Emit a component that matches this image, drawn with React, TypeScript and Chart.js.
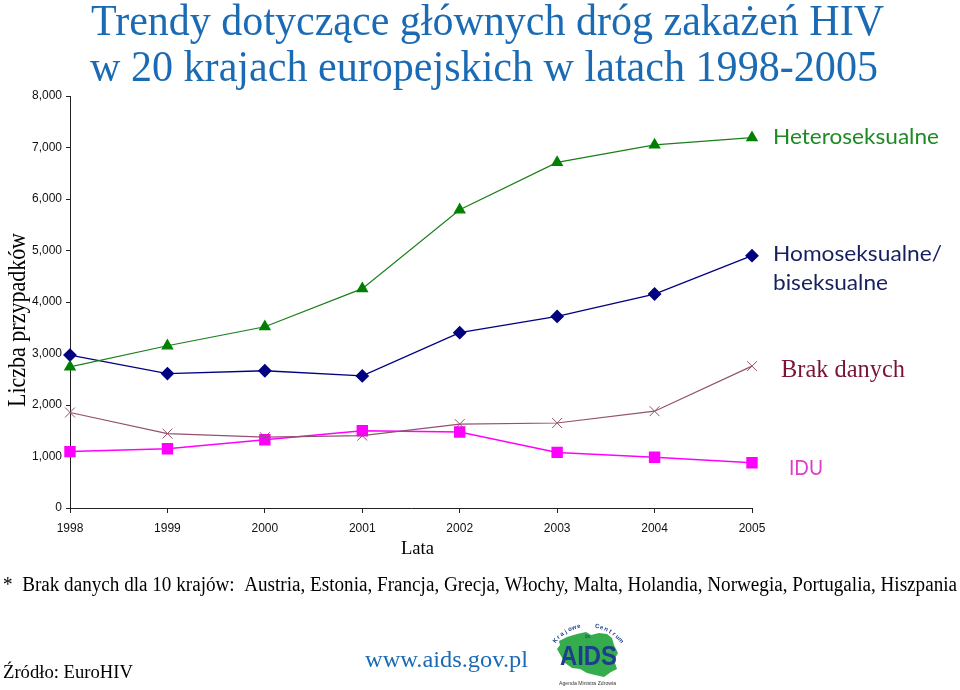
import React, { useEffect, useRef } from "react";
import { Chart, registerables } from "chart.js";
Chart.register(...registerables);

// ---- data ----
const years = [1998, 1999, 2000, 2001, 2002, 2003, 2004, 2005];
const heteroseksualne = [2740, 3150, 3520, 4260, 5790, 6710, 7050, 7190];
const homoseksualne = [2970, 2610, 2665, 2565, 3405, 3720, 4155, 4900];
const brakDanych = [1855, 1445, 1375, 1405, 1630, 1650, 1880, 2755];
const idu = [1095, 1150, 1325, 1500, 1475, 1080, 985, 880];
const yMin = 0;
const yMax = 8000;
const yStep = 1000;

const titleLines = [
  "Trendy dotyczące głównych dróg zakażeń HIV",
  "w 20 krajach europejskich w latach 1998-2005",
];
const seriesNames = ["Heteroseksualne", "Homoseksualne/", "biseksualne", "Brak danych", "IDU"];
const yTitle = "Liczba przypadków";
const xTitle = "Lata";
const footnote =
  "*  Brak danych dla 10 krajów:  Austria, Estonia, Francja, Grecja, Włochy, Malta, Holandia, Norwegia, Portugalia, Hiszpania";
const sourceText = "Źródło: EuroHIV";
const urlText = "www.aids.gov.pl";

const SERIF = "'Liberation Serif', 'Times New Roman', serif";
const SANS = "Lato, 'Open Sans', sans-serif";
const TICK_FONT = "'Liberation Sans', Arial, sans-serif";

function fitText(
  ctx: CanvasRenderingContext2D,
  text: string,
  x: number,
  y: number,
  font: string,
  color: string,
  width: number
) {
  ctx.save();
  ctx.font = font;
  ctx.fillStyle = color;
  ctx.textAlign = "left";
  ctx.textBaseline = "alphabetic";
  const w = ctx.measureText(text).width || 1;
  ctx.translate(x, y);
  ctx.scale(width / w, 1);
  ctx.fillText(text, 0, 0);
  ctx.restore();
}

function drawLogo(ctx: CanvasRenderingContext2D) {
  const ox = 557;
  const oy = 632;
  const pts = [
    [2, 9], [10, 5], [20, 2], [29, 0], [34, 3], [42, 1], [50, 2], [55, 6], [57, 13],
    [61, 21], [57, 28], [60, 37], [54, 40], [47, 45], [38, 43], [30, 41], [23, 37],
    [15, 36], [8, 31], [4, 24], [0, 17], [3, 13],
  ];
  ctx.save();
  ctx.beginPath();
  pts.forEach(([px, py], i) => {
    if (i === 0) ctx.moveTo(ox + px, oy + py);
    else ctx.lineTo(ox + px, oy + py);
  });
  ctx.closePath();
  ctx.fillStyle = "#35ad4c";
  ctx.fill();
  ctx.restore();

  fitText(ctx, "AIDS", 560, 665, `bold 28px 'Liberation Sans', sans-serif`, "#1d3d8e", 57);

  // arc text
  const arc = "Krajowe   Centrum";
  const cx = 588;
  const cy = 668;
  const r = 41;
  const a0 = (-140 * Math.PI) / 180;
  const a1 = (-40 * Math.PI) / 180;
  ctx.save();
  ctx.font = `bold 6px 'Liberation Sans', sans-serif`;
  ctx.fillStyle = "#1d3d8e";
  ctx.textAlign = "center";
  for (let i = 0; i < arc.length; i++) {
    const a = a0 + ((a1 - a0) * i) / (arc.length - 1);
    ctx.save();
    ctx.translate(cx + r * Math.cos(a), cy + r * Math.sin(a));
    ctx.rotate(a + Math.PI / 2);
    ctx.fillText(arc[i], 0, 0);
    ctx.restore();
  }
  ctx.font = `5px 'Liberation Sans', sans-serif`;
  ctx.fillText("ds.", 588, 638);
  ctx.restore();

  fitText(ctx, "Agenda Ministra Zdrowia", 559, 685, `5px 'Liberation Sans', sans-serif`, "#333", 57);
}

const textPlugin = {
  id: "texts",
  afterDraw(chart: any) {
    const ctx: CanvasRenderingContext2D = chart.ctx;
    // title
    fitText(ctx, titleLines[0], 91, 35, `44px ${SERIF}`, "#1b6bb4", 793);
    fitText(ctx, titleLines[1], 90, 81, `44px ${SERIF}`, "#1b6bb4", 788);

    // series labels
    fitText(ctx, seriesNames[0], 773, 144, `22px ${SANS}`, "#1f8a25", 166);
    fitText(ctx, seriesNames[1], 773, 261, `22px ${SANS}`, "#17205e", 169);
    fitText(ctx, seriesNames[2], 773, 290, `22px ${SANS}`, "#17205e", 115);
    fitText(ctx, seriesNames[3], 781, 377, `26px ${SERIF}`, "#7b1434", 124);
    fitText(ctx, seriesNames[4], 789, 475, `22px ${SANS}`, "#e03cc8", 34);

    // axis titles
    ctx.save();
    ctx.translate(24.5, 407);
    ctx.rotate(-Math.PI / 2);
    fitText(ctx, yTitle, 0, 0, `25px ${SERIF}`, "#000", 174);
    ctx.restore();
    fitText(ctx, xTitle, 401, 554, `19px ${SERIF}`, "#000", 33);

    // footer
    fitText(ctx, footnote, 3, 591, `20px ${SERIF}`, "#000", 954);
    fitText(ctx, sourceText, 3, 678, `18px ${SERIF}`, "#000", 130);
    fitText(ctx, urlText, 365, 667, `24px ${SERIF}`, "#1b6bb4", 163);

    drawLogo(ctx);
  },
};

function toPoints(vals: number[]) {
  return years.map((x, i) => ({ x, y: vals[i] }));
}

export default function App() {
  const ref = useRef<HTMLCanvasElement>(null);

  useEffect(() => {
    if (!ref.current) return;
    const chart = new Chart(ref.current, {
      type: "line",
      data: {
        datasets: [
          {
            label: "Heteroseksualne",
            data: toPoints(heteroseksualne),
            borderColor: "#1a7f1a",
            backgroundColor: "#008000",
            pointBackgroundColor: "#008000",
            pointBorderColor: "#008000",
            pointStyle: "triangle",
            pointRadius: 6,
            borderWidth: 1.2,
            clip: false,
          },
          {
            label: "Homoseksualne/biseksualne",
            data: toPoints(homoseksualne),
            borderColor: "#000080",
            backgroundColor: "#000080",
            pointBackgroundColor: "#000080",
            pointBorderColor: "#000080",
            pointStyle: "rectRot",
            pointRadius: 6,
            borderWidth: 1.3,
            clip: false,
          },
          {
            label: "Brak danych",
            data: toPoints(brakDanych),
            borderColor: "#93506f",
            backgroundColor: "#93506f",
            pointBackgroundColor: "#93506f",
            pointBorderColor: "#93506f",
            pointStyle: "crossRot",
            pointRadius: 7,
            pointBorderWidth: 1,
            borderWidth: 1.2,
            clip: false,
          },
          {
            label: "IDU",
            data: toPoints(idu),
            borderColor: "#ff00ff",
            backgroundColor: "#ff00ff",
            pointBackgroundColor: "#ff00ff",
            pointBorderColor: "#ff00ff",
            pointStyle: "rect",
            pointRadius: 7,
            borderWidth: 1.5,
            clip: false,
          },
        ],
      },
      options: {
        animation: false,
        responsive: false,
        maintainAspectRatio: false,
        devicePixelRatio: 1,
        locale: "en-US",
        layout: { padding: { left: 0, top: 96, right: 208, bottom: 0 } },
        plugins: {
          legend: { display: false },
          tooltip: { enabled: false },
          title: { display: false },
        },
        elements: { line: { tension: 0 } },
        scales: {
          x: {
            type: "linear",
            min: years[0],
            max: years[years.length - 1],
            ticks: {
              stepSize: 1,
              autoSkip: false,
              maxRotation: 0,
              padding: 8,
              color: "#111",
              font: { family: TICK_FONT, size: 12 },
              callback: (v: any) => String(v),
            },
            grid: {
              drawOnChartArea: false,
              drawTicks: true,
              tickLength: 5,
              color: "#222",
              lineWidth: 1,
            },
            border: { display: true, color: "#222", width: 1 },
            afterFit: (s: any) => {
              s.height = 182;
            },
          },
          y: {
            min: yMin,
            max: yMax,
            ticks: {
              stepSize: yStep,
              padding: 4,
              color: "#111",
              font: { family: TICK_FONT, size: 12 },
            },
            grid: {
              drawOnChartArea: false,
              drawTicks: true,
              tickLength: 4,
              color: "#222",
              lineWidth: 1,
            },
            border: { display: true, color: "#222", width: 1 },
            afterFit: (s: any) => {
              s.width = 70;
            },
          },
        },
      },
      plugins: [textPlugin],
    } as any);
    return () => chart.destroy();
  }, []);

  return (
    <div style={{ position: "absolute", left: 0, top: 0, width: 960, height: 690, background: "#fff" }}>
      <canvas ref={ref} width={960} height={690} style={{ display: "block", width: 960, height: 690 }} />
    </div>
  );
}
